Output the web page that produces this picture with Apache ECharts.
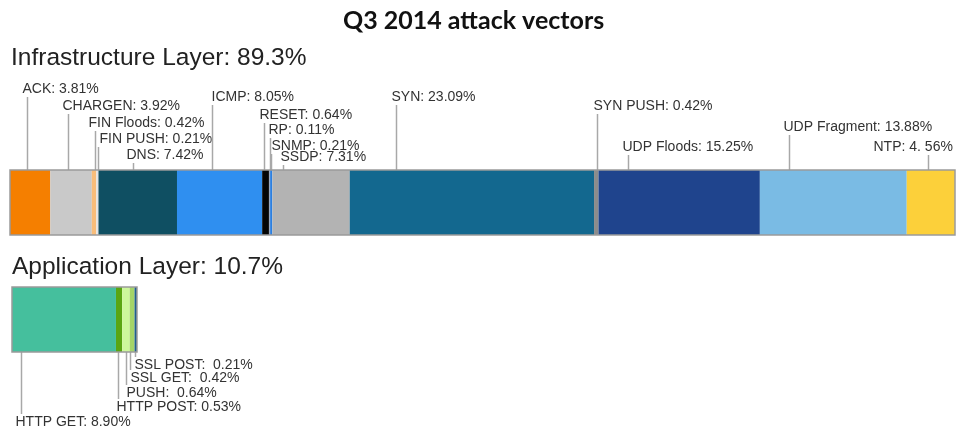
<!DOCTYPE html>
<html>
<head>
<meta charset="utf-8">
<script src="https://cdn.jsdelivr.net/npm/echarts@6/dist/echarts.min.js"></script>
<style>
  html, body { margin: 0; padding: 0; background: #fff; }
  #main { width: 962px; height: 432px; }
</style>
</head>
<body>
<div id="main"></div>
<script>
// infrastructure layer vectors (share of all attacks, %)
var infraNames = ['ACK', 'CHARGEN', 'FIN Floods', 'FIN PUSH', 'DNS', 'ICMP', 'RESET', 'RP', 'SNMP', 'SSDP',
                  'SYN', 'SYN PUSH', 'UDP Floods', 'UDP Fragment', 'NTP'];
var infraValues = [3.81, 3.92, 0.42, 0.21, 7.42, 8.05, 0.64, 0.11, 0.21, 7.31, 23.09, 0.42, 15.25, 13.88, 4.56];
var infraLabels = ['ACK: 3.81%', 'CHARGEN: 3.92%', 'FIN Floods: 0.42%', 'FIN PUSH: 0.21%', 'DNS: 7.42%',
                   'ICMP: 8.05%', 'RESET: 0.64%', 'RP: 0.11%', 'SNMP: 0.21%', 'SSDP: 7.31%', 'SYN: 23.09%',
                   'SYN PUSH: 0.42%', 'UDP Floods: 15.25%', 'UDP Fragment: 13.88%', 'NTP: 4. 56%'];

// application layer vectors
var appNames = ['HTTP GET', 'HTTP POST', 'PUSH', 'SSL GET', 'SSL POST'];
var appValues = [8.90, 0.53, 0.64, 0.42, 0.21];
var appLabels = ['HTTP GET: 8.90%', 'HTTP POST: 0.53%', 'PUSH:  0.64%', 'SSL GET:  0.42%', 'SSL POST:  0.21%'];

var infraTotal = 89.3;
var appTotal = 10.7;

// colours
var infraColors = ['#f57f00', '#c9c9c9', '#f8bd7a', '#e4e4e4', '#0f4f62', '#2f8ff0', '#050505', '#9aa9c0',
                   '#2c7fe0', '#b3b3b3', '#13688f', '#8c8c8c', '#1f448d', '#7abbe4', '#fcd03a'];
var appColors = ['#45bf9d', '#5aa512', '#cdf79c', '#a4d468', '#1f5f8f'];

// callout layout: [where the leader sits inside the segment, distance from bar, text offset]
var infraCallout = [[0.42, 81, -5], [0.43, 64, -6], [0.7, 47, -7], [0.6, 31, 1], [0.44, 15, -7],
                    [0.41, 73, -1], [0.2, 55, -5], [0.5, 40, -2], [0.5, 24, 0], [0.14, 13, -3],
                    [0.19, 73, -5], [0.6, 64, -4], [0.18, 23, -6], [0.2, 43, -6], [0.44, 23, -55]];
var appCallout = [[0.09, 70, -6], [0.4, 55, -2], [0.5, 41, 0], [0.1, 26, 0], [0.3, 13, -1]];

function stack(values) {
    var acc = 0;
    return values.map(function (v, i) {
        var d = [acc, acc + v, 0, i];
        acc += v;
        return d;
    });
}

function makeRender(colors, labels, callout, above) {
    return function (params, api) {
        var i = api.value(3);
        var p0 = api.coord([api.value(0), api.value(2)]);
        var p1 = api.coord([api.value(1), api.value(2)]);
        var h = api.size([0, 1])[1];
        var top = p0[1] - h / 2;
        var bottom = p0[1] + h / 2;
        var c = callout[i];
        var lx = Math.round(p0[0] + (p1[0] - p0[0]) * c[0]) + 0.5;
        var edge = above ? top : bottom;
        var ty = above ? top - c[1] : bottom + c[1];
        var lineEnd = above ? ty + 8 : ty - 8;
        return {
            type: 'group',
            children: [{
                type: 'rect',
                shape: { x: p0[0], y: top, width: p1[0] - p0[0], height: h },
                style: { fill: colors[i] }
            }, {
                type: 'line',
                shape: { x1: lx, y1: edge, x2: lx, y2: lineEnd },
                style: { stroke: '#a8a8a8', lineWidth: 1.5 }
            }, {
                type: 'text',
                style: {
                    text: labels[i], x: lx + c[2], y: ty,
                    fill: '#333', fontSize: 14, fontFamily: 'Liberation Sans, Arial, sans-serif',
                    align: 'left', verticalAlign: 'middle'
                }
            }]
        };
    };
}

var chart = echarts.init(document.getElementById('main'));

var titleFont = 'Liberation Sans, Arial, sans-serif';

var option = {
    animation: false,
    title: [{
        text: 'Q3 2014 attack vectors',
        left: 338, top: 3,
        textStyle: { fontFamily: 'Lato', fontWeight: 'bold', fontSize: 25, color: '#111' }
    }, {
        text: 'Infrastructure Layer: 89.3%',
        left: 6, top: 41,
        textStyle: { fontFamily: titleFont, fontWeight: 'normal', fontSize: 24.5, color: '#222' }
    }, {
        text: 'Application Layer: 10.7%',
        left: 7, top: 250,
        textStyle: { fontFamily: titleFont, fontWeight: 'normal', fontSize: 24.5, color: '#222' }
    }],
    grid: [
        { left: 10, top: 170, width: 945, height: 65, show: true, z: 10,
          backgroundColor: 'transparent', borderColor: '#9a9a9a', borderWidth: 1.5 },
        { left: 12, top: 287, width: 125, height: 65, show: true, z: 10,
          backgroundColor: 'transparent', borderColor: '#9a9a9a', borderWidth: 1.5 }
    ],
    xAxis: [
        { gridIndex: 0, type: 'value', min: 0, max: infraTotal, show: false },
        { gridIndex: 1, type: 'value', min: 0, max: appTotal, show: false }
    ],
    yAxis: [
        { gridIndex: 0, type: 'category', data: ['Infrastructure Layer'], show: false },
        { gridIndex: 1, type: 'category', data: ['Application Layer'], show: false }
    ],
    series: [{
        name: 'Infrastructure Layer',
        type: 'custom',
        xAxisIndex: 0, yAxisIndex: 0,
        renderItem: makeRender(infraColors, infraLabels, infraCallout, true),
        encode: { x: [0, 1], y: 2 },
        data: stack(infraValues)
    }, {
        name: 'Application Layer',
        type: 'custom',
        xAxisIndex: 1, yAxisIndex: 1,
        renderItem: makeRender(appColors, appLabels, appCallout, false),
        encode: { x: [0, 1], y: 2 },
        data: stack(appValues)
    }]
};

chart.setOption(option);
</script>
</body>
</html>
